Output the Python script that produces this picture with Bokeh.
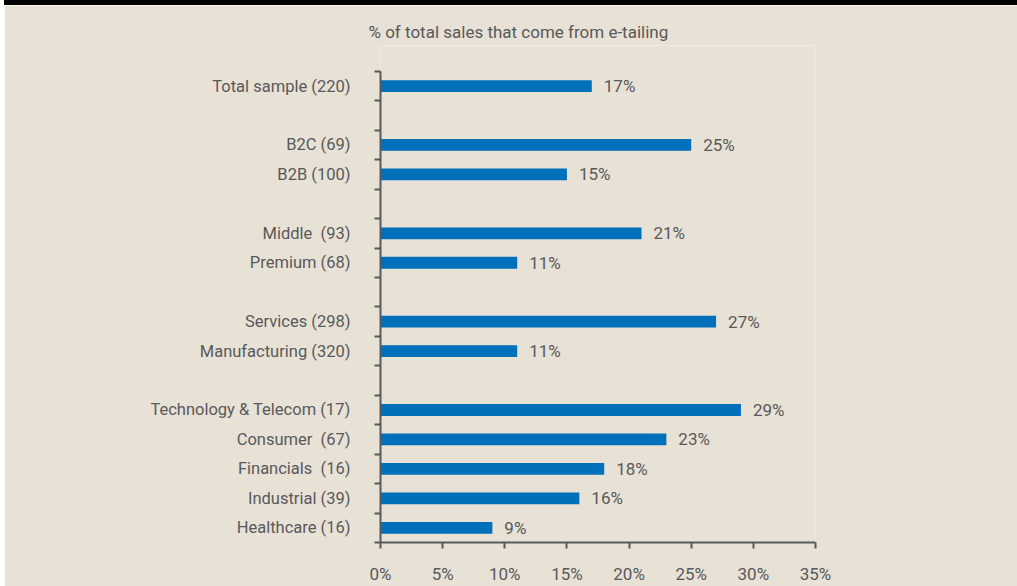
from bokeh.plotting import figure
from bokeh.models import Range1d, FixedTicker, ColumnDataSource, Div
from bokeh.layouts import column, row
from bokeh.embed import file_html
from bokeh.resources import INLINE
from bokeh.core.properties import value

# ---------------- data ----------------
title_text = "% of total sales that come from e-tailing"
categories = ["Total sample (220)", "B2C (69)", "B2B (100)", "Middle\u00a0 (93)", "Premium (68)",
              "Services (298)", "Manufacturing (320)", "Technology & Telecom (17)",
              "Consumer\u00a0 (67)", "Financials\u00a0 (16)", "Industrial (39)", "Healthcare (16)"]
groups = [0, 1, 1, 2, 2, 3, 3, 4, 4, 4, 4, 4]
shares = [17, 25, 15, 21, 11, 27, 11, 29, 23, 18, 16, 9]
x_ticks = [0, 5, 10, 15, 20, 25, 30, 35]
x_tick_labels = ["0%", "5%", "10%", "15%", "20%", "25%", "30%", "35%"]

# ---------------- style ----------------
FONT = "Roboto"
FS = "16.5px"
GREY = "#58595B"
BG = "#E8E1D5"
BAR = "#0070BA"

slots = [i + g for i, g in enumerate(groups)]
n_slots = slots[-1] + 1
centers = [s + 0.5 for s in slots]
TOP_PAD = 0.8776  # empty room above the axis, in row units (frame reaches up to the title)

p = figure(width=1013, height=581,
           x_range=Range1d(0, x_ticks[-1]), y_range=Range1d(n_slots, -TOP_PAD),
           output_backend="svg", toolbar_location=None,
           min_border_left=376, min_border_right=202,
           min_border_top=40, min_border_bottom=41,
           title=title_text)
p.background_fill_color = BG
p.border_fill_color = BG
p.outline_line_color = None
p.grid.visible = False

p.title.align = "left"
p.title.offset = -12
p.title.vertical_align = "bottom"
p.title.text_font = FONT
p.title.text_font_size = "17px"
p.title.text_font_style = "normal"
p.title.text_color = GREY
p.title.standoff = 8

src = ColumnDataSource(dict(cat=categories, share=shares, center=centers,
                            label=[f"{v}%" for v in shares]))
p.hbar(y="center", left=0, right="share", height=0.4, source=src,
       fill_color=BAR, line_color=None)
p.text(x="share", y="center", text="label", source=src, x_offset=12,
       text_align="left", text_baseline="middle",
       text_font=value(FONT), text_font_size="17px", text_color=GREY)

# x axis
xa = p.xaxis[0]
xa.ticker = FixedTicker(ticks=x_ticks, minor_ticks=[])
xa.major_label_overrides = {t: lab for t, lab in zip(x_ticks, x_tick_labels)}
xa.major_label_standoff = 15
xa.major_label_text_font = FONT
xa.major_label_text_font_size = "17px"
xa.major_label_text_color = GREY
xa.major_tick_in = 0
xa.major_tick_out = 6
xa.minor_tick_in = 0
xa.minor_tick_out = 0
xa.axis_line_color = GREY
xa.axis_line_width = 2
xa.major_tick_line_color = GREY
xa.major_tick_line_width = 2

# y axis
ya = p.yaxis[0]
ya.bounds = (0, n_slots)
ya.ticker = FixedTicker(ticks=centers, minor_ticks=list(range(n_slots + 1)))
ya.major_label_overrides = {c: name for c, name in zip(centers, categories)}
ya.major_tick_in = 0
ya.major_tick_out = 0
ya.minor_tick_in = 0
ya.minor_tick_out = 6
ya.minor_tick_line_color = GREY
ya.minor_tick_line_width = 2
ya.axis_line_color = GREY
ya.axis_line_width = 2
ya.major_label_standoff = 24
ya.major_label_text_font = FONT
ya.major_label_text_font_size = FS
ya.major_label_text_color = GREY

band = Div(text="", width=1013, height=5, margin=0,
           styles={"background-color": "black"})
edge = Div(text="", width=4, height=586, margin=0,
           styles={"background-color": "white"})
layout = row(edge, column(band, p, spacing=0), spacing=0)

open("out.html", "w").write(file_html(layout, INLINE))
